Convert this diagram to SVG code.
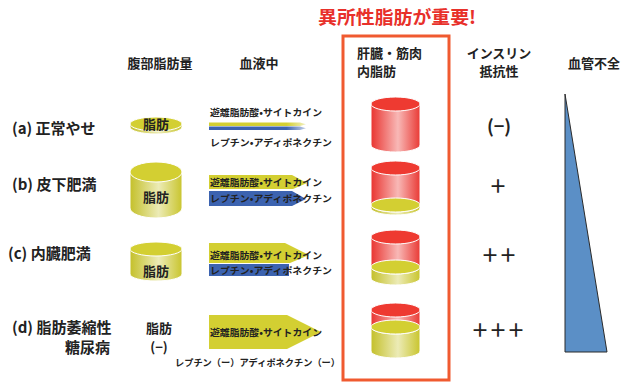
<svg xmlns="http://www.w3.org/2000/svg" width="624" height="382" viewBox="0 0 624 382">
  <defs>
    <linearGradient id="gYellow" x1="0" y1="0" x2="1" y2="0">
      <stop offset="0" stop-color="#c4c02a"/>
      <stop offset="0.55" stop-color="#ecebb6"/>
      <stop offset="1" stop-color="#c9c52e"/>
    </linearGradient>
    <linearGradient id="gRed" x1="0" y1="0" x2="1" y2="0">
      <stop offset="0" stop-color="#e93430"/>
      <stop offset="0.55" stop-color="#f8b8b6"/>
      <stop offset="1" stop-color="#e93a35"/>
    </linearGradient>
    <linearGradient id="gStripeY" x1="0" y1="0" x2="1" y2="0">
      <stop offset="0" stop-color="#d3cf32"/>
      <stop offset="0.8" stop-color="#d3cf32"/>
      <stop offset="1" stop-color="#d3cf32" stop-opacity="0.3"/>
    </linearGradient>
    <linearGradient id="gStripeB" x1="0" y1="0" x2="1" y2="0">
      <stop offset="0" stop-color="#3c63b0"/>
      <stop offset="0.8" stop-color="#3c63b0"/>
      <stop offset="1" stop-color="#3c63b0" stop-opacity="0.3"/>
    </linearGradient>
  </defs>
  <style>
    text { font-family: "Noto Sans CJK JP", "Noto Sans", sans-serif; fill: #222; }
    .hdr { font-size: 13px; font-weight: bold; }
    .row { font-size: 15px; font-weight: bold; }
    .fat { font-size: 13px; font-weight: bold; text-anchor: middle; }
    .band { font-size: 9.5px; font-weight: bold; }
    .ir { font-size: 18px; font-weight: bold; text-anchor: middle; }
    .title { font-size: 18px; font-weight: bold; fill: #e8302a; }
    .yTop { fill: #d3cf32; stroke: #fff; stroke-width: 1; }
    .yBody { fill: url(#gYellow); stroke: #fff; stroke-width: 1; }
    .rTop { fill: #ee3a31; stroke: #fff; stroke-width: 1; }
    .rBody { fill: url(#gRed); stroke: #fff; stroke-width: 1; }
    .yBand { fill: #d3cf32; }
    .bBand { fill: #3c63b0; }
  </style>

  <!-- heading -->
  <text class="title" x="318" y="24" textLength="158" lengthAdjust="spacingAndGlyphs">異所性脂肪が重要!</text>
  <rect id="ectopic-frame" x="343" y="36" width="106" height="344" fill="none" stroke="#f05a30" stroke-width="3"/>

  <!-- column headers -->
  <g id="headers">
    <text class="hdr" x="160" y="68" text-anchor="middle">腹部脂肪量</text>
    <text class="hdr" x="259" y="68" text-anchor="middle">血液中</text>
    <text class="hdr" x="357" y="58">肝臓・筋肉</text>
    <text class="hdr" x="357" y="76">内脂肪</text>
    <text class="hdr" x="499" y="58" text-anchor="middle">インスリン</text>
    <text class="hdr" x="499" y="76" text-anchor="middle">抵抗性</text>
    <text class="hdr" x="594" y="68" text-anchor="middle">血管不全</text>
  </g>

  <!-- row labels -->
  <g id="row-labels">
    <text class="row" x="12" y="134">(a) 正常やせ</text>
    <text class="row" x="12" y="190">(b) 皮下肥満</text>
    <text class="row" x="8" y="259">(c) 内臓肥満</text>
    <text class="row" x="12" y="333">(d) 脂肪萎縮性</text>
    <text class="row" x="110" y="353" text-anchor="end">糖尿病</text>
  </g>

  <!-- abdominal fat -->
  <g id="fat-a">
    <path class="yBody" d="M130,124 L130,127 A26,7 0 0 0 182,127 L182,124 Z"/>
    <ellipse class="yTop" cx="156" cy="124" rx="26" ry="7"/>
    <text class="fat" x="156" y="129" font-size="12">脂肪</text>
  </g>
  <g id="fat-b">
    <path class="yBody" d="M130,172 L130,208 A26,10 0 0 0 182,208 L182,172 Z"/>
    <ellipse class="yTop" cx="156" cy="172" rx="26" ry="10"/>
    <text class="fat" x="156" y="202">脂肪</text>
  </g>
  <g id="fat-c">
    <path class="yBody" d="M130,249 L130,274 A26,7 0 0 0 182,274 L182,249 Z"/>
    <ellipse class="yTop" cx="156" cy="249" rx="26" ry="7"/>
    <text class="fat" x="156" y="276">脂肪</text>
  </g>
  <g id="fat-d">
    <text class="fat" x="159" y="333">脂肪</text>
    <text class="fat" x="159" y="352">(−)</text>
  </g>

  <!-- blood: secreted factors -->
  <g id="blood-a">
    <text class="band" x="210" y="116" textLength="112" lengthAdjust="spacingAndGlyphs">遊離脂肪酸•サイトカイン</text>
    <polygon fill="url(#gStripeY)" points="209,122.5 300,122.5 306,124.2 300,126 209,126"/>
    <polygon fill="url(#gStripeB)" points="209,126.5 300,126.5 306,128.2 300,130 209,130"/>
    <text class="band" x="210" y="146" textLength="122" lengthAdjust="spacingAndGlyphs">レプチン•アディポネクチン</text>
  </g>
  <g id="blood-b">
    <polygon class="yBand" points="209,175 292,175 307,183 293,189 209,189"/>
    <text class="band" x="210" y="186" textLength="112" lengthAdjust="spacingAndGlyphs">遊離脂肪酸•サイトカイン</text>
    <polygon class="bBand" points="209,191 292,191 306,199 292,206 209,206"/>
    <text class="band" x="210" y="202" textLength="122" lengthAdjust="spacingAndGlyphs">レプチン•アディポネクチン</text>
  </g>
  <g id="blood-c">
    <polygon class="yBand" points="209,243 285,243 309,255 290,263 209,263"/>
    <text class="band" x="210" y="259" textLength="112" lengthAdjust="spacingAndGlyphs">遊離脂肪酸•サイトカイン</text>
    <rect class="bBand" x="209" y="264" width="80" height="12"/>
    <text class="band" x="210" y="274" textLength="122" lengthAdjust="spacingAndGlyphs">レプチン•アディポネクチン</text>
  </g>
  <g id="blood-d">
    <polygon class="yBand" points="209,315 287,315 321,332 287,349 209,349"/>
    <text class="band" x="210" y="336" textLength="112" lengthAdjust="spacingAndGlyphs">遊離脂肪酸•サイトカイン</text>
    <text class="band" x="175" y="366" textLength="165" lengthAdjust="spacingAndGlyphs">レプチン（ー）アディポネクチン（ー）</text>
  </g>

  <!-- ectopic fat in liver / muscle -->
  <g id="ectopic-a">
    <path class="rBody" d="M371,104 L371,145 A24.5,7 0 0 0 420,145 L420,104 Z"/>
    <ellipse class="rTop" cx="395.5" cy="104" rx="24.5" ry="7"/>
  </g>
  <g id="ectopic-b">
    <path class="yBody" d="M371,205 L371,208 A24.5,7 0 0 0 420,208 L420,205 Z"/>
    <path class="rBody" d="M371,168 L371,205 A24.5,7 0 0 0 420,205 L420,168 Z"/>
    <ellipse class="rTop" cx="395.5" cy="168" rx="24.5" ry="7"/>
    <ellipse class="yTop" cx="395.5" cy="205" rx="24.5" ry="7"/>
  </g>
  <g id="ectopic-c">
    <path class="yBody" d="M371,267 L371,278 A24.5,7 0 0 0 420,278 L420,267 Z"/>
    <path class="rBody" d="M371,237 L371,267 A24.5,7 0 0 0 420,267 L420,237 Z"/>
    <ellipse class="rTop" cx="395.5" cy="237" rx="24.5" ry="7"/>
    <ellipse class="yTop" cx="395.5" cy="267" rx="24.5" ry="7"/>
  </g>
  <g id="ectopic-d">
    <path class="yBody" d="M371,327 L371,351 A24.5,7 0 0 0 420,351 L420,327 Z"/>
    <path class="rBody" d="M371,310 L371,327 A24.5,7 0 0 0 420,327 L420,310 Z"/>
    <ellipse class="rTop" cx="395.5" cy="310" rx="24.5" ry="7"/>
    <ellipse class="yTop" cx="395.5" cy="327" rx="24.5" ry="7"/>
  </g>

  <!-- insulin resistance -->
  <g id="insulin">
    <text class="ir" x="499" y="133" font-size="21">(−)</text>
    <text class="ir" x="498" y="193">＋</text>
    <text class="ir" x="499" y="262">＋＋</text>
    <text class="ir" x="498" y="337">＋＋＋</text>
  </g>

  <!-- vascular dysfunction wedge -->
  <polygon id="vascular" points="565,94 607,352 565,352" fill="#5b8fc6" stroke="#2a2a2a" stroke-width="1"/>
</svg>
